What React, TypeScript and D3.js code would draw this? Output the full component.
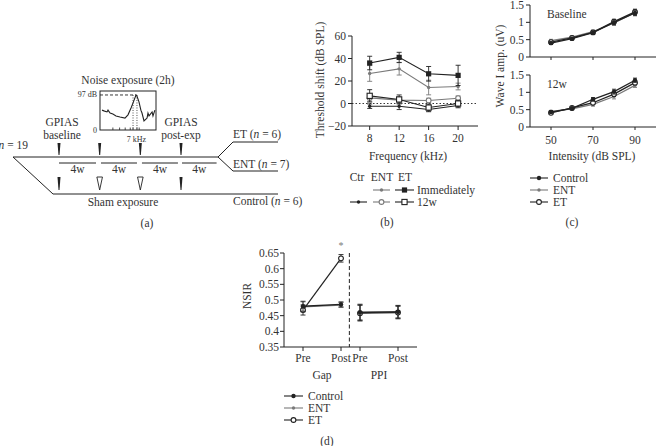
import React from 'react';
import * as d3 from 'd3';

const FONT = "'Liberation Serif','Times New Roman',serif";
const INK = '#222';
const GRAY = '#7a7a7a';
const TXT = '#333';

// ---------- Panel (a) schematic ----------
const timelineWeeks = [0, 4, 8, 12];
const shamOpen = [false, true, true, false];
const segmentWeeks: [number, number][] = [[0, 3.64], [4.13, 7.67], [8.16, 11.7], [12.1, 15.5]];
const segmentLabels = ['4w', '4w', '4w', '4w'];
const spectrumKHz = [0.86, 1.2, 1.75, 1.93, 2.3, 2.8, 3.36, 4.07, 4.96, 5.5, 6.04, 6.4, 6.93, 7.1, 7.46, 7.8, 8.0, 8.36, 8.7, 8.9, 9.07, 9.25, 9.4, 9.8, 9.96, 10.3];
const spectrumDb = [55, 53, 50, 55, 47, 44, 39, 36, 33, 42, 61, 75, 97, 94, 78, 55, 47, 25, 30, 33, 47, 39, 42, 50, 39, 55];
const spectrumTicks = [2.8, 4, 5, 5.9, 6.4, 7.1, 7.5];

// ---------- Panel (b) threshold shift ----------
const freqs = [8, 12, 16, 20];
const ctr12w = [-2.4, -2.4, -5.3, -1.8];
const ctr12wErr = [2, 3, 2, 2];
const entImm = [26.7, 30.8, 14.2, 15.1];
const entImmErr = [7, 5.5, 6.5, 3];
const etImm = [36, 41, 26.4, 25];
const etImmErr = [6, 4.5, 6.5, 9];
const ent12w = [5, 3, 2.7, 4.7];
const ent12wErr = [3, 3, 2, 2];
const et12w = [6.8, 3.6, -3.6, 0];
const et12wErr = [5.5, 4, 3, 3];
const bTicksY = [-20, 0, 20, 40, 60];

// ---------- Panel (c) wave I amplitude ----------
const intensities = [50, 60, 70, 80, 90];
const baseCtrl = [0.40, 0.53, 0.70, 1.00, 1.27];
const baseEnt = [0.47, 0.57, 0.73, 0.98, 1.28];
const baseEt = [0.43, 0.55, 0.71, 1.02, 1.30];
const baseErr = [0.04, 0.04, 0.05, 0.07, 0.08];
const w12Ctrl = [0.43, 0.54, 0.80, 1.02, 1.35];
const w12Ent = [0.45, 0.52, 0.65, 0.88, 1.20];
const w12Et = [0.41, 0.55, 0.70, 0.95, 1.28];
const w12Err = [0.03, 0.03, 0.05, 0.07, 0.06];
const cTicksY = [0, 0.5, 1, 1.5];
const cTicksX = [50, 70, 90];

// ---------- Panel (d) NSIR ----------
const dConditions = ['Pre', 'Post', 'Pre', 'Post'];
const dGroups = ['Gap', 'PPI'];
const nsirCtrl = [0.480, 0.486, 0.460, 0.462];
const nsirEnt = [0.478, 0.484, 0.462, 0.463];
const nsirEt = [0.468, 0.633, 0.458, 0.460];
const nsirErr = [0.016, 0.008, 0.025, 0.02];
const nsirEtErr = [0.016, 0.012, 0.025, 0.02];
const dTicksY = [0.35, 0.4, 0.45, 0.5, 0.55, 0.6, 0.65];

type Marker = 'dot' | 'smalldot' | 'ocircle' | 'square' | 'osquare';

function Mark({ x, y, m, color }: { x: number; y: number; m: Marker; color: string }) {
  if (m === 'dot') return <circle cx={x} cy={y} r={2.2} fill={color} />;
  if (m === 'smalldot') return <circle cx={x} cy={y} r={1.7} fill={color} />;
  if (m === 'ocircle') return <circle cx={x} cy={y} r={2.4} fill="#fff" stroke={color} strokeWidth={1.1} />;
  if (m === 'square') return <rect x={x - 2.6} y={y - 2.6} width={5.2} height={5.2} fill={color} />;
  return <rect x={x - 2.6} y={y - 2.6} width={5.2} height={5.2} fill="#fff" stroke={color} strokeWidth={1.1} />;
}

function Series({ xs, ys, errs, x, y, color, m, width = 1.1, cap = 2.5 }: any) {
  const line = d3.line<number>().x((_, i) => x(xs[i])).y((v) => y(v));
  return (
    <g>
      {ys.map((v: number, i: number) => (
        <g key={i} stroke={color} strokeWidth={0.9}>
          <line x1={x(xs[i])} x2={x(xs[i])} y1={y(v - errs[i])} y2={y(v + errs[i])} />
          <line x1={x(xs[i]) - cap} x2={x(xs[i]) + cap} y1={y(v - errs[i])} y2={y(v - errs[i])} />
          <line x1={x(xs[i]) - cap} x2={x(xs[i]) + cap} y1={y(v + errs[i])} y2={y(v + errs[i])} />
        </g>
      ))}
      <path d={line(ys) || ''} fill="none" stroke={color} strokeWidth={width} />
      {ys.map((v: number, i: number) => (
        <Mark key={i} x={x(xs[i])} y={y(v)} m={m} color={color} />
      ))}
    </g>
  );
}

function LegendItem({ x1, x2, y, color, m, label, tx }: any) {
  return (
    <g>
      <line x1={x1} x2={x2} y1={y} y2={y} stroke={color} strokeWidth={1.1} />
      <Mark x={(x1 + x2) / 2} y={y} m={m} color={color} />
      {label && (
        <text x={tx} y={y} dominantBaseline="central" fontSize={11.5} fill={TXT}>{label}</text>
      )}
    </g>
  );
}

function PanelA() {
  const xA = d3.scaleLinear().domain([0, 12]).range([59, 181]);
  const yMain = 157;
  const yLow = 194;
  const xIn = d3.scaleLinear().domain([0.5, 10.5]).range([100, 156]);
  const yIn = d3.scaleLinear().domain([0, 108]).range([130, 91]);
  const spec = d3.line<number>().x((k) => xIn(k)).y((_, i) => yIn(spectrumDb[i]));
  const branchX = xA(15.64);
  const endX = 278;
  return (
    <g>
      {/* inset */}
      <text x={128} y={80} textAnchor="middle" dominantBaseline="central" fontSize={11.5} fill={TXT}>Noise exposure (2h)</text>
      <rect x={100} y={91} width={56} height={39} fill="none" stroke={INK} strokeWidth={1} />
      <line x1={100} x2={xIn(7)} y1={yIn(97)} y2={yIn(97)} stroke={INK} strokeDasharray="3,2" strokeWidth={0.9} />
      {[6.4, 7.1].map((k) => (
        <line key={k} x1={xIn(k)} x2={xIn(k)} y1={yIn(97)} y2={130} stroke={INK} strokeDasharray="1,1.5" strokeWidth={0.8} />
      ))}
      {spectrumTicks.map((k) => (
        <line key={k} x1={xIn(k)} x2={xIn(k)} y1={130} y2={127.5} stroke={INK} strokeWidth={0.8} />
      ))}
      <path d={spec(spectrumKHz) || ''} fill="none" stroke={INK} strokeWidth={1.1} />
      <text x={97} y={yIn(97)} textAnchor="end" dominantBaseline="central" fontSize={8} fill={TXT}>97 dB</text>
      <text x={97} y={130} textAnchor="end" dominantBaseline="central" fontSize={8} fill={TXT}>0</text>
      <text x={xIn(7)} y={139} textAnchor="middle" dominantBaseline="central" fontSize={8} fill={TXT}>7 kHz</text>

      {/* labels */}
      <text x={xA(0) + 3} y={122} textAnchor="middle" dominantBaseline="central" fontSize={11.5} fill={TXT}>GPIAS</text>
      <text x={xA(0) + 3} y={135} textAnchor="middle" dominantBaseline="central" fontSize={11.5} fill={TXT}>baseline</text>
      <text x={xA(12)} y={122} textAnchor="middle" dominantBaseline="central" fontSize={11.5} fill={TXT}>GPIAS</text>
      <text x={xA(12)} y={135} textAnchor="middle" dominantBaseline="central" fontSize={11.5} fill={TXT}>post-exp</text>
      <text x={28} y={145} textAnchor="end" dominantBaseline="central" fontSize={11.5} fill={TXT}>
        <tspan fontStyle="italic">n</tspan> = 19
      </text>

      {/* timelines */}
      <g stroke={INK} strokeWidth={1} fill="none">
        <line x1={13} x2={branchX} y1={yMain} y2={yMain} />
        <polyline points={`${branchX},${yMain} 233,142 ${endX},142`} />
        <polyline points={`${branchX},${yMain} 233,171 ${endX},171`} />
        <polyline points={`13,${yMain} 53,${yLow} ${endX},${yLow}`} />
      </g>
      {segmentWeeks.map(([a, b], i) => (
        <g key={i}>
          <line x1={xA(a)} x2={xA(b)} y1={163} y2={163} stroke={INK} strokeWidth={1} />
          <text x={(xA(a) + xA(b)) / 2} y={169} textAnchor="middle" dominantBaseline="central" fontSize={11.5} fill={TXT}>{segmentLabels[i]}</text>
        </g>
      ))}
      {timelineWeeks.map((w, i) => {
        const x = xA(w);
        return (
          <g key={i}>
            <polygon points={`${x - 1.5},143 ${x + 1.5},143 ${x + 0.5},155 ${x - 0.5},155`} fill={INK} />
            {shamOpen[i] ? (
              <polygon points={`${x - 2.8},177 ${x + 2.8},177 ${x},190`} fill="#fff" stroke={INK} strokeWidth={0.9} />
            ) : (
              <polygon points={`${x - 1.5},177 ${x + 1.5},177 ${x + 0.5},190 ${x - 0.5},190`} fill={INK} />
            )}
          </g>
        );
      })}
      <text x={123} y={202} textAnchor="middle" dominantBaseline="central" fontSize={11.5} fill={TXT}>Sham exposure</text>
      <text x={233} y={134} dominantBaseline="central" fontSize={11.5} fill={TXT}>ET (<tspan fontStyle="italic">n</tspan> = 6)</text>
      <text x={233} y={164} dominantBaseline="central" fontSize={11.5} fill={TXT}>ENT (<tspan fontStyle="italic">n</tspan> = 7)</text>
      <text x={233} y={201} dominantBaseline="central" fontSize={11.5} fill={TXT}>Control (<tspan fontStyle="italic">n</tspan> = 6)</text>
      <text x={147} y={223} textAnchor="middle" dominantBaseline="central" fontSize={11.5} fill={TXT}>(a)</text>
    </g>
  );
}

function PanelB() {
  const x = d3.scaleLinear().domain([5.6, 22.7]).range([352, 478]);
  const y = d3.scaleLinear().domain([-20, 60]).range([126, 36]);
  return (
    <g>
      <line x1={x(5.6)} x2={x(22.7)} y1={y(0)} y2={y(0)} stroke={INK} strokeDasharray="1.5,2" strokeWidth={0.9} />
      <Series xs={freqs} ys={ctr12w} errs={ctr12wErr} x={x} y={y} color={INK} m="smalldot" />
      <Series xs={freqs} ys={ent12w} errs={ent12wErr} x={x} y={y} color={GRAY} m="ocircle" />
      <Series xs={freqs} ys={et12w} errs={et12wErr} x={x} y={y} color={INK} m="osquare" />
      <Series xs={freqs} ys={entImm} errs={entImmErr} x={x} y={y} color={GRAY} m="smalldot" />
      <Series xs={freqs} ys={etImm} errs={etImmErr} x={x} y={y} color={INK} m="square" />
      <g stroke={INK} strokeWidth={1}>
        <line x1={x(5.6)} x2={x(5.6)} y1={y(60)} y2={y(-20)} />
        <line x1={x(5.6)} x2={x(22.7)} y1={y(-20)} y2={y(-20)} />
        {bTicksY.map((t) => <line key={t} x1={x(5.6) - 4} x2={x(5.6)} y1={y(t)} y2={y(t)} />)}
        {freqs.map((f) => <line key={f} x1={x(f)} x2={x(f)} y1={y(-20)} y2={y(-20) + 4} />)}
      </g>
      {bTicksY.map((t) => (
        <text key={t} x={x(5.6) - 6} y={y(t)} textAnchor="end" dominantBaseline="central" fontSize={11.5} fill={TXT}>{t < 0 ? `−${-t}` : t}</text>
      ))}
      {freqs.map((f) => (
        <text key={f} x={x(f)} y={138} textAnchor="middle" dominantBaseline="central" fontSize={11.5} fill={TXT}>{f}</text>
      ))}
      <text x={408} y={156} textAnchor="middle" dominantBaseline="central" fontSize={11.5} fill={TXT}>Frequency (kHz)</text>
      <text transform="translate(320,80) rotate(-90)" textAnchor="middle" dominantBaseline="central" fontSize={11.5} fill={TXT}>Threshold shift (dB SPL)</text>
      {/* legend */}
      <text x={357} y={177} textAnchor="middle" dominantBaseline="central" fontSize={11.5} fill={TXT}>Ctr</text>
      <text x={382} y={177} textAnchor="middle" dominantBaseline="central" fontSize={11.5} fill={TXT}>ENT</text>
      <text x={405} y={177} textAnchor="middle" dominantBaseline="central" fontSize={11.5} fill={TXT}>ET</text>
      <LegendItem x1={373} x2={390} y={190} color={GRAY} m="smalldot" />
      <LegendItem x1={395} x2={414} y={190} color={INK} m="square" label="Immediately" tx={417} />
      <LegendItem x1={350} x2={367} y={202} color={INK} m="smalldot" />
      <LegendItem x1={373} x2={390} y={202} color={GRAY} m="ocircle" />
      <LegendItem x1={395} x2={414} y={202} color={INK} m="osquare" label="12w" tx={417} />
      <text x={387} y={222} textAnchor="middle" dominantBaseline="central" fontSize={11.5} fill={TXT}>(b)</text>
    </g>
  );
}

function SubC({ y, label, ctrl, ent, et, err, x, showX }: any) {
  const [y0, y1] = y.range();
  return (
    <g>
      <Series xs={intensities} ys={ent} errs={err} x={x} y={y} color={GRAY} m="smalldot" width={1.3} cap={2} />
      <Series xs={intensities} ys={et} errs={err} x={x} y={y} color={INK} m="ocircle" width={1.3} cap={2} />
      <Series xs={intensities} ys={ctrl} errs={err} x={x} y={y} color={INK} m="dot" width={1.3} cap={2} />
      <g stroke={INK} strokeWidth={1}>
        <line x1={x(40)} x2={x(40)} y1={y1} y2={y0} />
        <line x1={x(40)} x2={x(100)} y1={y0} y2={y0} />
        {cTicksY.map((t) => <line key={t} x1={x(40) - 4} x2={x(40)} y1={y(t)} y2={y(t)} />)}
        {cTicksX.map((t) => <line key={t} x1={x(t)} x2={x(t)} y1={y0} y2={y0 + 3} />)}
      </g>
      {cTicksY.map((t) => (
        <text key={t} x={x(40) - 6} y={y(t)} textAnchor="end" dominantBaseline="central" fontSize={11.5} fill={TXT}>{t}</text>
      ))}
      {showX && cTicksX.map((t) => (
        <text key={t} x={x(t)} y={140} textAnchor="middle" dominantBaseline="central" fontSize={11.5} fill={TXT}>{t}</text>
      ))}
      <text x={547} y={y(1.5) + 9} dominantBaseline="central" fontSize={11.5} fill={TXT}>{label}</text>
    </g>
  );
}

function PanelC() {
  const x = d3.scaleLinear().domain([40, 100]).range([530, 656]);
  const yTop = d3.scaleLinear().domain([0, 1.5]).range([57, 5]);
  const yBot = d3.scaleLinear().domain([0, 1.5]).range([127, 75]);
  return (
    <g>
      <SubC y={yTop} label="Baseline" ctrl={baseCtrl} ent={baseEnt} et={baseEt} err={baseErr} x={x} showX={false} />
      <SubC y={yBot} label="12w" ctrl={w12Ctrl} ent={w12Ent} et={w12Et} err={w12Err} x={x} showX={true} />
      <text transform="translate(500,66) rotate(-90)" textAnchor="middle" dominantBaseline="central" fontSize={11.5} fill={TXT}>Wave I amp. (uV)</text>
      <text x={592} y={156} textAnchor="middle" dominantBaseline="central" fontSize={11.5} fill={TXT}>Intensity (dB SPL)</text>
      <LegendItem x1={530} x2={548} y={178} color={INK} m="dot" label="Control" tx={553} />
      <LegendItem x1={530} x2={548} y={190} color={GRAY} m="smalldot" label="ENT" tx={553} />
      <LegendItem x1={530} x2={548} y={202} color={INK} m="ocircle" label="ET" tx={553} />
      <text x={572} y={222} textAnchor="middle" dominantBaseline="central" fontSize={11.5} fill={TXT}>(c)</text>
    </g>
  );
}

function PanelD() {
  const x = d3.scaleLinear().domain([-0.5, 3]).range([284, 417]);
  const y = d3.scaleLinear().domain([0.35, 0.65]).range([347, 253]);
  const pos = dConditions.map((_, i) => i - (i >= 2 ? 0.5 : 0));
  const pair = (arr: number[], g: number) => arr.slice(g * 2, g * 2 + 2);
  const groups = [0, 1];
  const sep = (pos[1] + pos[2]) / 2 - 0.03;
  return (
    <g>
      {groups.map((g) => (
        <g key={g}>
          <Series xs={pos.slice(g * 2, g * 2 + 2)} ys={pair(nsirEnt, g)} errs={pair(nsirErr, g)} x={x} y={y} color={GRAY} m="smalldot" width={1.3} cap={2.5} />
          <Series xs={pos.slice(g * 2, g * 2 + 2)} ys={pair(nsirEt, g)} errs={pair(nsirEtErr, g)} x={x} y={y} color={INK} m="ocircle" width={1.2} cap={2.5} />
          <Series xs={pos.slice(g * 2, g * 2 + 2)} ys={pair(nsirCtrl, g)} errs={pair(nsirErr, g)} x={x} y={y} color={INK} m="dot" width={1.3} cap={2.5} />
        </g>
      ))}
      <line x1={x(sep)} x2={x(sep)} y1={y(0.65)} y2={y(0.35)} stroke={INK} strokeDasharray="4,2.5" strokeWidth={1} />
      <text x={x(pos[1])} y={245} textAnchor="middle" dominantBaseline="central" fontSize={10} fill={GRAY}>*</text>
      <g stroke={INK} strokeWidth={1}>
        <line x1={x(-0.5)} x2={x(-0.5)} y1={y(0.65)} y2={y(0.35)} />
        <line x1={x(-0.5)} x2={x(3)} y1={y(0.35)} y2={y(0.35)} />
        {dTicksY.map((t) => <line key={t} x1={x(-0.5) - 4} x2={x(-0.5)} y1={y(t)} y2={y(t)} />)}
        {pos.map((p, i) => <line key={i} x1={x(p)} x2={x(p)} y1={y(0.35)} y2={y(0.35) + 4} />)}
      </g>
      {dTicksY.map((t) => (
        <text key={t} x={x(-0.5) - 5} y={y(t)} textAnchor="end" dominantBaseline="central" fontSize={11.5} fill={TXT}>{d3.format('.2~f')(t)}</text>
      ))}
      {pos.map((p, i) => (
        <text key={i} x={x(p)} y={358} textAnchor="middle" dominantBaseline="central" fontSize={11.5} fill={TXT}>{dConditions[i]}</text>
      ))}
      {groups.map((g) => (
        <text key={g} x={(x(pos[g * 2]) + x(pos[g * 2 + 1])) / 2} y={375} textAnchor="middle" dominantBaseline="central" fontSize={11.5} fill={TXT}>{dGroups[g]}</text>
      ))}
      <text transform="translate(247,296) rotate(-90)" textAnchor="middle" dominantBaseline="central" fontSize={11.5} fill={TXT}>NSIR</text>
      <LegendItem x1={284} x2={303} y={396} color={INK} m="dot" label="Control" tx={308} />
      <LegendItem x1={284} x2={303} y={408} color={GRAY} m="smalldot" label="ENT" tx={308} />
      <LegendItem x1={284} x2={303} y={420} color={INK} m="ocircle" label="ET" tx={308} />
      <text x={327} y={441} textAnchor="middle" dominantBaseline="central" fontSize={11.5} fill={TXT}>(d)</text>
    </g>
  );
}

export default function App() {
  return (
    <svg width={656} height={446} viewBox="0 0 656 446" style={{ position: 'absolute', left: 0, top: 0, background: '#fff' }} fontFamily={FONT}>
      <rect x={0} y={0} width={656} height={446} fill="#fff" />
      <PanelA />
      <PanelB />
      <PanelC />
      <PanelD />
    </svg>
  );
}
